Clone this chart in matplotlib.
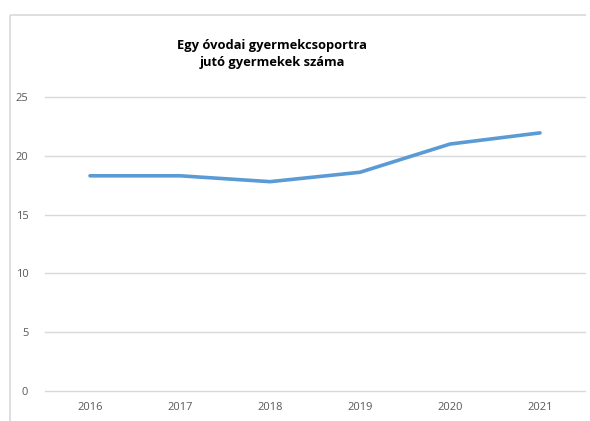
import matplotlib.pyplot as plt

years = ['2016', '2017', '2018', '2019', '2020', '2021']
values = [18.3, 18.3, 17.8, 18.6, 21.0, 21.95]
yticks = [0, 5, 10, 15, 20, 25]
title = 'Egy óvodai gyermekcsoportra\njutó gyermekek száma'

plt.rcParams['font.family'] = ['Open Sans', 'DejaVu Sans']

fig = plt.figure(figsize=(5.9, 4.21), dpi=100)

ax = fig.add_axes([45 / 590, 30 / 421, 540 / 590, 294 / 421])
x = list(range(len(years)))
ax.plot(x, values, color='#5b9bd5', linewidth=2.6, solid_capstyle='round', solid_joinstyle='round')

ax.set_xlim(-0.5, len(years) - 0.5)
ax.set_ylim(0, 25)
ax.set_yticks(yticks)
ax.set_xticks(x)
ax.set_xticklabels(years)
ax.grid(axis='y', color='#d9d9d9', linewidth=1)
for gl in ax.get_ygridlines():
    gl.set_clip_on(False)
ax.set_axisbelow(True)
for s in ax.spines.values():
    s.set_visible(False)
ax.tick_params(length=0, colors='#595959', labelsize=8)
ax.tick_params(axis='y', pad=12)
ax.tick_params(axis='x', pad=8)

# chart frame: only the top and left edges are visible in the original
fx, fy = 10 / 590, 1 - 15 / 421
fig.add_artist(plt.Line2D([fx, 586 / 590], [fy, fy], transform=fig.transFigure,
                          color='#d9d9d9', linewidth=1.2, solid_capstyle='butt'))
fig.add_artist(plt.Line2D([fx, fx], [0.0, fy], transform=fig.transFigure,
                          color='#d9d9d9', linewidth=1.2, solid_capstyle='butt'))

fig.text(272 / 590, 1 - 54 / 421, title, ha='center', va='center', fontsize=9.3,
         fontweight='bold', color='black', linespacing=1.45)

fig.savefig('out.png', dpi=100)
